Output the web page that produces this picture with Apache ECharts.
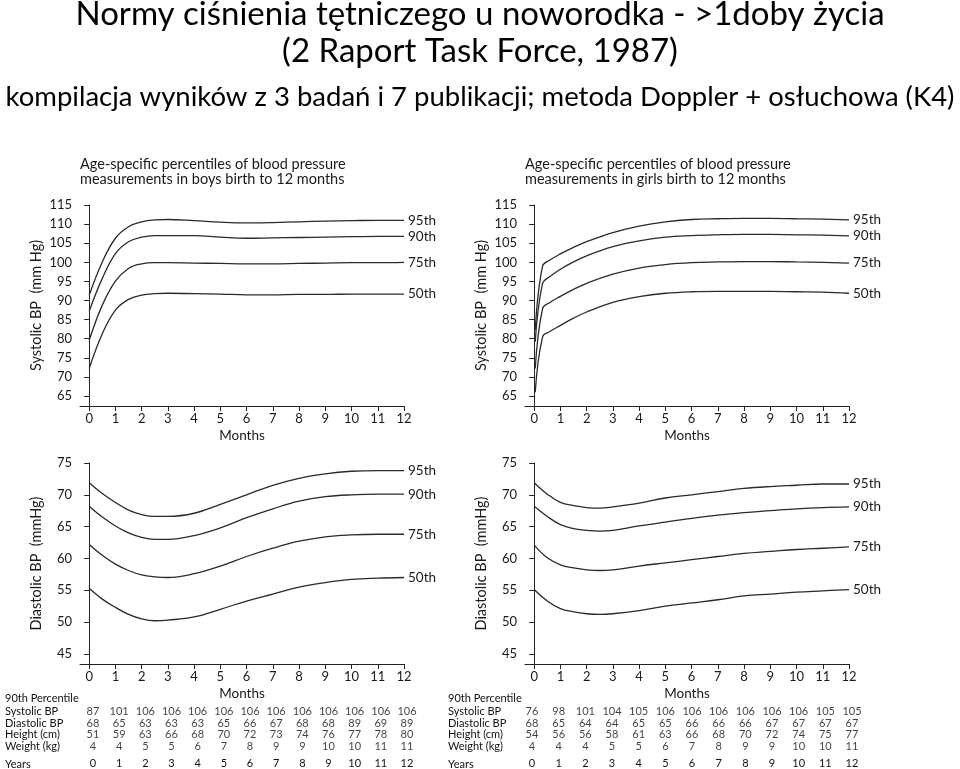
<!DOCTYPE html>
<html><head><meta charset="utf-8">
<script src="https://cdn.jsdelivr.net/npm/echarts@6/dist/echarts.min.js"></script>
<style>html,body{margin:0;padding:0;background:#fff}#c{width:960px;height:769px}</style>
</head><body><div id="c"></div>
<script>
// ---- titles ----
const titleLines = [
  'Normy ciśnienia tętniczego u noworodka - >1doby życia',
  '(2 Raport Task Force, 1987)',
  'kompilacja wyników z 3 badań i 7 publikacji; metoda Doppler + osłuchowa (K4)'
];
const boysTitle = 'Age-specific percentiles of blood pressure\nmeasurements in boys birth to 12 months';
const girlsTitle = 'Age-specific percentiles of blood pressure\nmeasurements in girls birth to 12 months';

// ---- x positions (months) ----
const months = [0, 0.5, 1, 1.5, 2, 2.5, 3, 4, 5, 6, 7, 8, 9, 10, 11, 12];
const girlsSysMonths = [0.04, 0.32, 0.6, 1, 1.5, 2, 3, 4, 5, 6, 7, 8, 9, 10, 11, 12];
const monthTicks = [0,1,2,3,4,5,6,7,8,9,10,11,12];
const sysTicks = [65,70,75,80,85,90,95,100,105,110,115];
const diaTicks = [45,50,55,60,65,70,75];

// ---- boys systolic ----
const boysSys95 = [91.4,100.1,106.3,109.3,110.6,111.1,111.2,110.9,110.5,110.3,110.4,110.6,110.8,110.9,111,111];
const boysSys90 = [87.2,95.8,102.3,105.4,106.6,107,107,107,106.6,106.3,106.4,106.5,106.6,106.7,106.8,106.8];
const boysSys75 = [79.6,88.8,95.1,98.4,99.6,99.9,99.9,99.8,99.7,99.6,99.6,99.7,99.8,99.9,99.9,100];
const boysSys50 = [72.2,81.3,87.5,90.3,91.4,91.8,91.9,91.8,91.7,91.5,91.5,91.6,91.6,91.7,91.7,91.7];

// ---- girls systolic ----
const girlsSys95 = [82.2,99,100.6,102.2,103.9,105.4,107.8,109.5,110.6,111.2,111.4,111.5,111.5,111.4,111.3,111.1];
const girlsSys90 = [79.2,94.5,96.3,98.2,100.1,101.7,104.1,105.6,106.6,107,107.2,107.3,107.3,107.2,107.1,106.9];
const girlsSys75 = [72.2,87.9,89.5,91.1,92.9,94.5,96.9,98.5,99.4,99.9,100.1,100.2,100.2,100.1,100,99.8];
const girlsSys50 = [66,80.5,81.9,83.5,85.4,87,89.5,91,91.9,92.3,92.4,92.4,92.4,92.3,92.2,91.9];

// ---- boys diastolic ----
const boysDia95 = [71.9,70.2,68.8,67.6,66.9,66.6,66.6,67.1,68.5,70,71.5,72.6,73.3,73.7,73.8,73.8];
const boysDia90 = [68.2,66.5,65.1,64,63.3,63,63,63.6,64.8,66.4,67.8,69,69.7,70,70.1,70.1];
const boysDia75 = [62.2,60.5,59.1,58.1,57.4,57.1,57,57.6,58.8,60.3,61.6,62.7,63.4,63.7,63.8,63.8];
const boysDia50 = [55.3,53.6,52.3,51.2,50.5,50.2,50.3,50.8,52,53.3,54.4,55.5,56.2,56.7,56.9,57];

// ---- girls diastolic ----
const girlsDia95 = [71.9,70.1,68.8,68.3,68,67.9,68.1,68.7,69.5,70,70.5,71,71.3,71.5,71.7,71.7];
const girlsDia90 = [68.2,66.6,65.3,64.7,64.4,64.3,64.4,65.1,65.7,66.3,66.8,67.2,67.5,67.8,68,68.1];
const girlsDia75 = [62.1,60.1,59,58.5,58.2,58.1,58.2,58.8,59.3,59.8,60.3,60.8,61.1,61.4,61.6,61.8];
const girlsDia50 = [55.1,53.3,52.1,51.6,51.3,51.2,51.3,51.8,52.5,53,53.5,54.1,54.4,54.7,54.9,55.1];

// ---- tables (90th percentile) ----
const tableRows = ['Systolic BP', 'Diastolic BP', 'Height (cm)', 'Weight (kg)'];
const years = [0,1,2,3,4,5,6,7,8,9,10,11,12];
const boysTSys = [87,101,106,106,106,106,106,106,106,106,106,106,106];
const boysTDia = [68,65,63,63,63,65,66,67,68,68,89,69,89];
const boysTHeight = [51,59,63,66,68,70,72,73,74,76,77,78,80];
const boysTWeight = [4,4,5,5,6,7,8,9,9,10,10,11,11];
const girlsTSys = [76,98,101,104,105,106,106,106,106,106,106,105,105];
const girlsTDia = [68,65,64,64,65,65,66,66,66,67,67,67,67];
const girlsTHeight = [54,56,56,58,61,63,66,68,70,72,74,75,77];
const girlsTWeight = [4,4,4,5,5,6,7,8,9,9,10,10,11];

const FONT = 'Lato, "Liberation Sans", sans-serif';
const TXT = '#1a1a1a';

function zip(xs, ys) { return xs.map((x, i) => [x, ys[i]]); }

function xAxisCfg(gi) {
  return {
    type: 'value', gridIndex: gi, min: -0.35, max: 12,
    name: 'Months', nameLocation: 'middle', nameGap: 23,
    nameTextStyle: { fontFamily: FONT, fontSize: 13.5, color: TXT },
    axisLine: { show: true, lineStyle: { color: '#222', width: 1 } },
    axisTick: { show: true, length: 5, customValues: monthTicks, lineStyle: { color: '#222' } },
    axisLabel: { show: true, customValues: monthTicks, fontFamily: FONT, fontSize: 13, color: TXT, margin: 6 },
    splitLine: { show: false }
  };
}
function yAxisCfg(gi, min, max, ticks, name) {
  return {
    type: 'value', gridIndex: gi, min: min, max: max,
    name: name, nameLocation: 'middle', nameGap: 36, nameRotate: 90,
    nameTextStyle: { fontFamily: FONT, fontSize: 14.5, color: TXT },
    axisLine: { show: true, lineStyle: { color: '#222', width: 1 } },
    axisTick: { show: true, length: 5, customValues: ticks, lineStyle: { color: '#222' } },
    axisLabel: { show: true, customValues: ticks, fontFamily: FONT, fontSize: 13, color: TXT, margin: 8 },
    splitLine: { show: false }
  };
}
function lineSeries(gi, name, xs, ys) {
  return {
    type: 'line', name: name, xAxisIndex: gi, yAxisIndex: gi,
    data: zip(xs, ys), smooth: 0.4, showSymbol: false, symbol: 'none',
    lineStyle: { color: '#2a2a2a', width: 1.3 },
    endLabel: { show: true, formatter: p => p.seriesName, fontFamily: FONT, fontSize: 13.5, color: TXT, distance: 4 },
    silent: true, animation: false
  };
}
function tableSeries(gi, vals, row) {
  return {
    type: 'scatter', xAxisIndex: gi, yAxisIndex: gi,
    data: years.map((y, i) => [y, row, vals[i]]),
    symbolSize: 1, itemStyle: { color: 'rgba(0,0,0,0)' },
    label: { show: true, position: 'inside', formatter: p => String(p.value[2]), fontFamily: FONT, fontSize: 11, color: '#111' },
    silent: true, animation: false
  };
}
function tableX(gi) {
  return {
    type: 'value', gridIndex: gi, min: 0, max: 12, interval: 1,
    axisLine: { show: false }, axisTick: { show: false }, splitLine: { show: false },
    axisLabel: { show: true, fontFamily: FONT, fontSize: 11, color: '#111', margin: 6 }
  };
}
function tableY(gi, margin) {
  return {
    type: 'category', gridIndex: gi, data: tableRows, inverse: true,
    axisLine: { show: false }, axisTick: { show: false }, splitLine: { show: false },
    axisLabel: { show: true, interval: 0, align: 'left', margin: margin, fontFamily: FONT, fontSize: 11, color: '#111' }
  };
}

const chart = echarts.init(document.getElementById('c'), null, { renderer: 'canvas' });
const option = {
  backgroundColor: '#fff',
  animation: false,
  title: [
    { text: titleLines[0], left: 'center', top: -7, textStyle: { fontFamily: FONT, fontWeight: 'normal', fontSize: 33, color: '#000' } },
    { text: titleLines[1], left: 'center', top: 30, textStyle: { fontFamily: FONT, fontWeight: 'normal', fontSize: 33, color: '#000' } },
    { text: titleLines[2], left: 'center', top: 78, textStyle: { fontFamily: FONT, fontWeight: 'normal', fontSize: 27.5, color: '#000' } }
  ],
  graphic: [
    { type: 'text', left: 80, top: 157, style: { text: boysTitle, font: '14.5px ' + FONT, fill: TXT, lineHeight: 15 } },
    { type: 'text', left: 525, top: 157, style: { text: girlsTitle, font: '14.5px ' + FONT, fill: TXT, lineHeight: 15 } },
    { type: 'text', left: 5, top: 693, style: { text: '90th Percentile', font: '11px ' + FONT, fill: '#111' } },
    { type: 'text', left: 448, top: 693, style: { text: '90th Percentile', font: '11px ' + FONT, fill: '#111' } },
    { type: 'text', left: 5, top: 759, style: { text: 'Years', font: '11px ' + FONT, fill: '#111' } },
    { type: 'text', left: 448, top: 759, style: { text: 'Years', font: '11px ' + FONT, fill: '#111' } }
  ],
  grid: [
    { left: 80, top: 205, width: 324, height: 201, containLabel: false },
    { left: 525, top: 205, width: 324, height: 201, containLabel: false },
    { left: 80, top: 463, width: 324, height: 201, containLabel: false },
    { left: 525, top: 463, width: 324, height: 201, containLabel: false },
    { left: 93, top: 706, width: 314, height: 48, containLabel: false },
    { left: 532, top: 706, width: 320, height: 48, containLabel: false }
  ],
  xAxis: [xAxisCfg(0), xAxisCfg(1), xAxisCfg(2), xAxisCfg(3), tableX(4), tableX(5)],
  yAxis: [
    yAxisCfg(0, 62.4, 115, sysTicks, 'Systolic BP  (mm Hg)'),
    yAxisCfg(1, 62.4, 115, sysTicks, 'Systolic BP  (mm Hg)'),
    yAxisCfg(2, 43.4, 75, diaTicks, 'Diastolic BP  (mmHg)'),
    yAxisCfg(3, 43.4, 75, diaTicks, 'Diastolic BP  (mmHg)'),
    tableY(4, 88),
    tableY(5, 84)
  ],
  series: [
    lineSeries(0, '95th', months, boysSys95),
    lineSeries(0, '90th', months, boysSys90),
    lineSeries(0, '75th', months, boysSys75),
    lineSeries(0, '50th', months, boysSys50),
    lineSeries(1, '95th', girlsSysMonths, girlsSys95),
    lineSeries(1, '90th', girlsSysMonths, girlsSys90),
    lineSeries(1, '75th', girlsSysMonths, girlsSys75),
    lineSeries(1, '50th', girlsSysMonths, girlsSys50),
    lineSeries(2, '95th', months, boysDia95),
    lineSeries(2, '90th', months, boysDia90),
    lineSeries(2, '75th', months, boysDia75),
    lineSeries(2, '50th', months, boysDia50),
    lineSeries(3, '95th', months, girlsDia95),
    lineSeries(3, '90th', months, girlsDia90),
    lineSeries(3, '75th', months, girlsDia75),
    lineSeries(3, '50th', months, girlsDia50),
    tableSeries(4, boysTSys, tableRows[0]),
    tableSeries(4, boysTDia, tableRows[1]),
    tableSeries(4, boysTHeight, tableRows[2]),
    tableSeries(4, boysTWeight, tableRows[3]),
    tableSeries(5, girlsTSys, tableRows[0]),
    tableSeries(5, girlsTDia, tableRows[1]),
    tableSeries(5, girlsTHeight, tableRows[2]),
    tableSeries(5, girlsTWeight, tableRows[3])
  ]
};
chart.setOption(option);
</script>
</body></html>
